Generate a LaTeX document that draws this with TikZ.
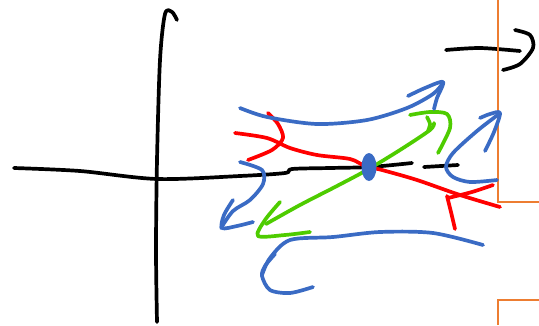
\documentclass[tikz,border=0pt]{standalone}
\usepackage{xcolor}
\usepackage{tikz}
\usetikzlibrary{arrows.meta,calc,shapes.geometric}
\definecolor{ink}{HTML}{000000}
\definecolor{penblue}{HTML}{3A6BC4}
\definecolor{penred}{HTML}{FF0000}
\definecolor{pengreen}{HTML}{4ECC00}
\definecolor{penorange}{HTML}{ED7D31}

\begin{document}
\begin{tikzpicture}[
  x=1pt, y=-1pt,
  pen/.style={line width=3.7pt, line cap=round, line join=round},
  blackpen/.style={pen, draw=ink},
  bluepen/.style={pen, draw=penblue},
  redpen/.style={pen, draw=penred},
  greenpen/.style={pen, draw=pengreen},
  frame/.style={draw=penorange, line width=2pt}
]
\useasboundingbox (0,0) rectangle (539,325);

% axes
\draw[blackpen] plot[smooth] coordinates {(157,322) (156,250) (157,160) (160,60) (165,14) (172,12) (177,20)};
\draw[blackpen] plot[smooth] coordinates {(14,168) (80,171) (157,179) (240,176) (285,173) (292,169) (330,168) (370,167) (412,163)};
\draw[blackpen] (424,167) -- (458,165);

% arrow at top right
\draw[blackpen] plot[smooth] coordinates {(446,50) (480,48) (520,51)};
\draw[blackpen] plot[smooth] coordinates {(515,30) (530,35) (533,48) (520,64) (503,70)};

% page edges
\draw[frame] (498,0) -- (498,202) -- (539,202);
\draw[frame] (498,325) -- (498,300) -- (539,300);

% red line with fletching
\draw[redpen] plot[smooth] coordinates {(235,133) (267,138) (290,148) (317,155) (350,159) (365,166) (382,170) (417,180) (460,195) (500,207)};
\draw[redpen] plot[smooth] coordinates {(268,113) (278,124) (283,138) (272,150) (248,160)};
\draw[redpen] plot[smooth] coordinates {(493,185) (472,192) (448,198)};
\draw[redpen] plot[smooth] coordinates {(447,196) (451,212) (455,229)};

% green arrow
\draw[greenpen] plot[smooth] coordinates {(266,224) (300,205) (335,187) (367,170) (400,150) (430,130) (434,123)};
\draw[greenpen] plot[smooth] coordinates {(410,115) (430,112) (447,114) (450,128) (438,153)};
\draw[greenpen] plot[smooth] coordinates {(427,117) (430,124) (428,131)};
\draw[greenpen] plot[smooth] coordinates {(280,202) (265,220) (258,236) (285,235) (310,232)};

% blue arrows
\draw[bluepen] plot[smooth] coordinates {(240,108) (267,117) (317,124) (367,120) (407,108) (433,94) (443,83)};
\draw[bluepen] plot[smooth] coordinates {(408,96) (425,88) (443,82) (437,98) (434,109)};
\draw[bluepen] plot[smooth] coordinates {(240,162) (262,170) (263,184) (250,200) (233,211) (221,228)};
\draw[bluepen] plot[smooth] coordinates {(233,200) (224,215) (222,228) (237,226) (253,222)};
\draw[bluepen] plot[smooth] coordinates {(483,245) (433,233) (380,232) (333,237) (290,240) (270,258) (262,275)};
\draw[bluepen] plot[smooth] coordinates {(275,254) (265,266) (262,276) (270,290) (290,293) (313,287)};
\draw[bluepen] plot[smooth] coordinates {(497,180) (470,182) (453,177) (446,167) (453,153) (477,131) (499,114)};
\draw[bluepen] plot[smooth] coordinates {(480,118) (490,114) (500,113) (494,132) (485,151)};

% crossing point
\node[draw=none, fill=penblue, ellipse, minimum width=15pt, minimum height=28pt, inner sep=0pt] (hub) at (369,167) {};

\end{tikzpicture}
\end{document}
